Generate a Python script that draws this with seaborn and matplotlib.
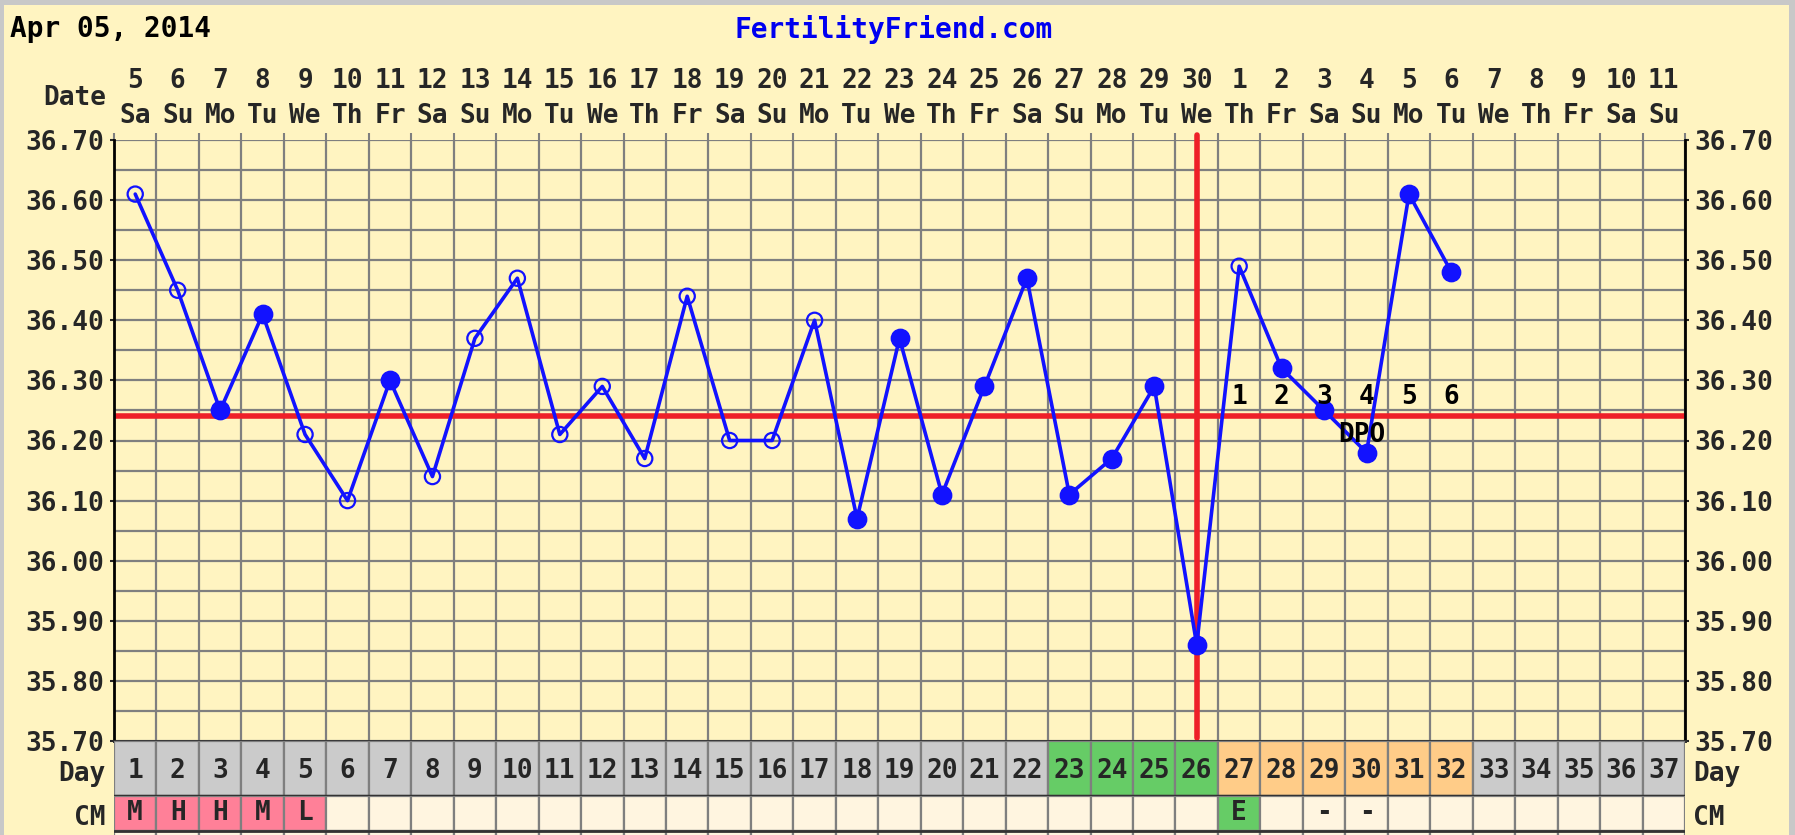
import numpy as np
import pandas as pd
import matplotlib
matplotlib.use("Agg")
import matplotlib.pyplot as plt
import seaborn as sns
from matplotlib.patches import Rectangle

sns.set_style("white")
plt.rcParams['font.family'] = ['DejaVu Sans Mono', 'DejaVu Sans']
plt.rcParams['font.weight'] = 'bold'

# ---------------- data ----------------
date_nums = [5, 6, 7, 8, 9, 10, 11, 12, 13, 14, 15, 16, 17, 18, 19, 20, 21, 22, 23,
             24, 25, 26, 27, 28, 29, 30, 1, 2, 3, 4, 5, 6, 7, 8, 9, 10, 11]
weekdays = ["Sa", "Su", "Mo", "Tu", "We", "Th", "Fr"] * 5 + ["Sa", "Su"]
cycle_days = list(range(1, 38))
temps = [36.61, 36.45, 36.25, 36.41, 36.21, 36.10, 36.30, 36.14, 36.37, 36.47,
         36.21, 36.29, 36.17, 36.44, 36.20, 36.20, 36.40, 36.07, 36.37, 36.11,
         36.29, 36.47, 36.11, 36.17, 36.29, 35.86, 36.49, 36.32, 36.25, 36.18,
         36.61, 36.48]
filled = [0, 0, 1, 1, 0, 0, 1, 0, 0, 0,
          0, 0, 0, 0, 0, 0, 0, 1, 1, 1,
          1, 1, 1, 1, 1, 1, 0, 1, 1, 1,
          1, 1]
coverline = 36.24
ovulation_day = 26
dpo_days = [27, 28, 29, 30, 31, 32]
dpo_labels = ["1", "2", "3", "4", "5", "6"]
day_phase = (["none"] * 22 + ["fertile"] * 4 + ["luteal"] * 6 + ["none"] * 5)
cm_labels = ["M", "H", "H", "M", "L"] + [""] * 21 + ["E", "", "-", "-"] + [""] * 7
cm_kind = ["period"] * 5 + ["blank"] * 21 + ["egg"] + ["blank"] * 10
y_ticks = [35.70, 35.80, 35.90, 36.00, 36.10, 36.20, 36.30, 36.40, 36.50, 36.60, 36.70]

# ---------------- style ----------------
BG = "#FFF4C1"
BORDER = "#C8C8C8"
GRID = "#7F7F7F"
BLUE = "#1212FF"
RED = "#EE2028"
phase_col = {"none": "#CBCBCB", "fertile": "#66CC66", "luteal": "#FFCC88"}
cm_col = {"period": "#FF8098", "blank": "#FFF5E0", "egg": "#66CC66"}
FS = 18.8
FT = 20

W, H = 1795, 835
fig = plt.figure(figsize=(W / 100, H / 100), dpi=100)
fig.patch.set_facecolor(BORDER)
fig.patches.append(Rectangle((4 / W, 0), (1789 - 4) / W, (H - 5) / H,
                             transform=fig.transFigure, facecolor=BG,
                             edgecolor="none", zorder=-10))

def rect(l, t, r, b):
    return [l / W, 1 - b / H, (r - l) / W, (b - t) / H]

L, R = 114, 1685
ax = fig.add_axes(rect(L, 140, R, 741))
ax_day = fig.add_axes(rect(L, 741, R, 796))
ax_cm = fig.add_axes(rect(L, 796, R, 835))

df = pd.DataFrame({"day": cycle_days[:len(temps)], "temp": temps, "filled": filled})

# main chart
ax.set_facecolor(BG)
ax.set_xlim(0.5, 37.5)
ax.set_ylim(35.70, 36.70)
ax.set_xticks(np.arange(0.5, 38, 1), minor=True)
ax.set_yticks(np.arange(35.70, 36.70001, 0.05), minor=True)
ax.set_yticks(y_ticks)
ax.set_yticklabels([f"{v:.2f}" for v in y_ticks])
ax.set_xticks(cycle_days)
ax.set_xticklabels([f"{d}\n{w}" for d, w in zip(date_nums, weekdays)],
                   linespacing=1.42)
ax.xaxis.tick_top()
ax.tick_params(axis='x', which='major', length=0, pad=8, labelsize=FS)
ax.tick_params(axis='x', which='minor', direction='out', length=5, width=1.5,
               color=GRID, top=True, bottom=False)
ax.tick_params(axis='y', which='major', direction='out', length=3, width=1.5,
               left=True, right=True, labelleft=True, labelright=True,
               labelsize=FS, pad=4)
ax.tick_params(axis='y', which='minor', length=0)
ax.grid(True, which='minor', color=GRID, lw=1.6)
ax.grid(True, which='major', axis='y', color=GRID, lw=1.6)
for side in ["left", "right"]:
    ax.spines[side].set_color("black")
    ax.spines[side].set_linewidth(2)
ax.spines["top"].set_visible(False)
ax.spines["bottom"].set_color("#333333")
ax.spines["bottom"].set_linewidth(2)
ax.set_axisbelow(True)

ax.axhline(coverline, color=RED, lw=4, zorder=2)
ax.plot([ovulation_day, ovulation_day], [35.705, 36.708], color=RED, lw=4,
        zorder=2, clip_on=False)

sns.lineplot(data=df, x="day", y="temp", ax=ax, color=BLUE, lw=2.6, zorder=3,
             sort=False)
open_df = df[df["filled"] == 0]
fill_df = df[df["filled"] == 1]
ax.scatter(open_df["day"], open_df["temp"], s=120, facecolors="none",
           edgecolors=BLUE, linewidths=1.6, zorder=4)
ax.scatter(fill_df["day"], fill_df["temp"], s=175, color=BLUE, zorder=4)

for d, lab in zip(dpo_days, dpo_labels):
    ax.text(d, 36.272, lab, ha="center", va="center", fontsize=FS,
            color="black", zorder=6)
ax.text(29.9, 36.209, "DPO", ha="center", va="center", fontsize=FS,
        color="black", zorder=6)
ax.set_xlabel("")
ax.set_ylabel("")

# Day row
ax_day.set_xlim(0.5, 37.5)
ax_day.set_ylim(0, 1)
ax_day.bar(cycle_days, 1, width=1, bottom=0,
           color=[phase_col[p] for p in day_phase], edgecolor=GRID, lw=1.6)
for d in cycle_days:
    ax_day.text(d, 0.45, str(d), ha="center", va="center", fontsize=FS)
ax_day.set_xticks([])
ax_day.set_yticks([0.45])
ax_day.set_yticklabels(["Day"])
ax_day.tick_params(axis='y', length=0, left=True, right=True, labelleft=True,
                   labelright=True, labelsize=FS, pad=6)
for s in ax_day.spines.values():
    s.set_visible(False)
ax_day.axhline(0, color="#333333", lw=2.5)

# CM row
ax_cm.set_xlim(0.5, 37.5)
ax_cm.set_ylim(-4 / 35, 1)
ax_cm.set_facecolor(BG)
ax_cm.bar(cycle_days, 1, width=1, bottom=0,
          color=[cm_col[k] for k in cm_kind], edgecolor=GRID, lw=1.6)
ax_cm.bar(cycle_days, 0.3, width=1, bottom=-0.3, color="#FFF5E0",
          edgecolor=GRID, lw=1.6)
for d, lab in zip(cycle_days, cm_labels):
    if lab:
        ax_cm.text(d, 0.5, lab, ha="center", va="center", fontsize=FS)
ax_cm.set_xticks([])
ax_cm.set_yticks([0.45])
ax_cm.set_yticklabels(["CM"])
ax_cm.tick_params(axis='y', length=0, left=True, right=True, labelleft=True,
                  labelright=True, labelsize=FS, pad=6)
for s in ax_cm.spines.values():
    s.set_visible(False)
ax_cm.axhline(0, color="#333333", lw=2)

# titles
fig.text(10 / W, 1 - 29 / H, "Apr 05, 2014", ha="left", va="center",
         fontsize=FT, color="black")
fig.text(894 / W, 1 - 30 / H, "FertilityFriend.com", ha="center", va="center",
         fontsize=FT, color="#0000F0")
fig.text(106 / W, 1 - 98 / H, "Date", ha="right", va="center", fontsize=FS)

fig.savefig("out.png", dpi=100, facecolor=fig.get_facecolor())
